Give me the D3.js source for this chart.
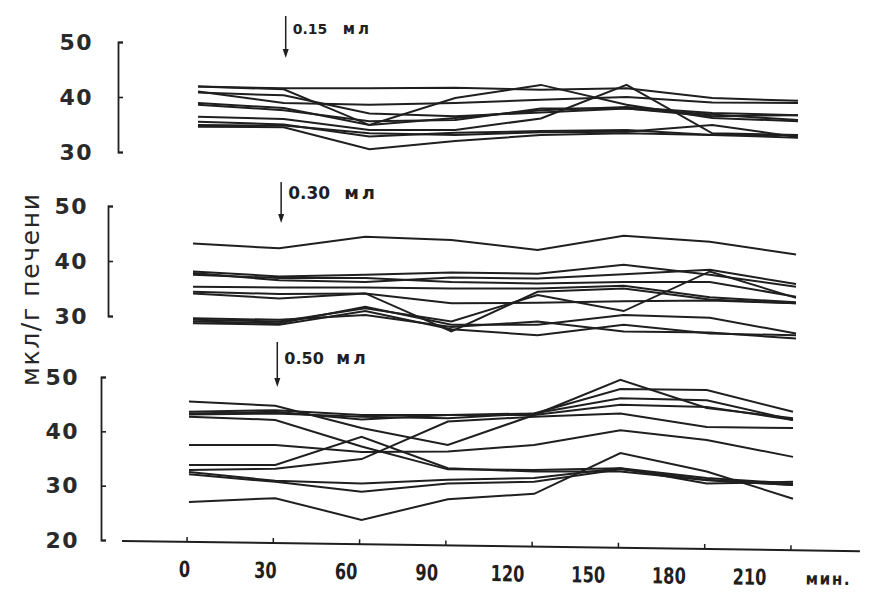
<!DOCTYPE html>
<html>
<head>
<meta charset="utf-8">
<script src="https://cdn.jsdelivr.net/npm/d3@7/dist/d3.min.js"></script>
<style>
  html, body { margin: 0; padding: 0; background: #ffffff; }
  svg { display: block; }
</style>
</head>
<body>
<script>
// Sampling times, minutes after injection
const times = [0, 30, 60, 90, 120, 150, 180, 210];

// Individual animals, µl per g of liver, dose 0.15 ml
const series015 = [
  [41.9, 41.6, 41.6, 41.7, 41.3, 41.6, 39.8, 39.3],
  [41.9, 41.4, 34.9, 39.8, 42.2, 38.6, 36.2, 35.6],
  [41.0, 38.9, 38.6, 38.9, 39.5, 40.0, 39.0, 38.9],
  [38.9, 38.0, 34.9, 36.2, 37.6, 38.2, 37.1, 36.7],
  [38.6, 37.6, 35.6, 35.8, 37.9, 37.9, 36.8, 35.8],
  [36.4, 36.0, 34.0, 34.0, 36.1, 42.2, 33.4, 33.1],
  [34.9, 34.8, 33.4, 33.1, 33.6, 33.7, 34.9, 32.7],
  [34.6, 34.5, 30.5, 32.0, 33.1, 33.4, 33.1, 32.6],
  [35.5, 35.0, 32.8, 33.5, 33.8, 34.0, 33.1, 33.1],
  [40.8, 40.3, 37.0, 36.5, 37.2, 37.9, 36.5, 36.7]
];

// dose 0.30 ml
const series030 = [
  [43.2, 42.3, 44.4, 43.8, 42.0, 44.6, 43.5, 41.2],
  [38.1, 37.2, 37.5, 37.9, 37.7, 39.3, 37.5, 35.3],
  [37.8, 36.5, 36.2, 37.0, 36.8, 37.6, 38.4, 35.8],
  [37.5, 36.9, 36.9, 36.2, 35.9, 36.2, 36.2, 33.5],
  [35.3, 35.2, 35.2, 35.0, 35.0, 35.5, 33.4, 32.5],
  [34.1, 33.2, 34.1, 32.3, 32.4, 32.7, 32.8, 32.3],
  [34.4, 34.0, 34.1, 27.2, 34.4, 35.0, 33.0, 32.3],
  [29.3, 29.0, 31.4, 29.0, 33.8, 30.9, 38.1, 33.3],
  [29.0, 28.7, 31.7, 28.4, 28.4, 30.2, 29.7, 26.8],
  [28.7, 28.4, 30.9, 27.6, 26.5, 28.4, 26.8, 26.5],
  [29.6, 29.3, 30.2, 28.0, 29.0, 27.2, 27.0, 25.9]
];

// dose 0.50 ml
const series050 = [
  [45.5, 44.7, 40.6, 37.5, 43.0, 49.5, 44.3, 42.4],
  [43.6, 43.9, 43.0, 43.0, 43.3, 47.8, 47.6, 43.6],
  [43.1, 43.3, 42.7, 42.4, 43.3, 46.1, 45.7, 42.1],
  [42.7, 42.1, 37.2, 33.0, 32.9, 33.2, 31.4, 30.4],
  [33.8, 33.8, 39.0, 33.2, 32.6, 32.6, 31.0, 30.1],
  [37.5, 37.5, 36.2, 36.3, 37.5, 40.2, 38.4, 35.3],
  [27.0, 27.7, 23.7, 27.5, 28.5, 36.0, 32.6, 27.6],
  [32.9, 33.1, 34.9, 41.8, 42.7, 43.3, 40.8, 40.6],
  [32.5, 30.9, 30.4, 31.1, 31.4, 33.2, 30.4, 30.7],
  [32.1, 30.7, 28.9, 30.4, 30.7, 33.0, 31.1, 30.1],
  [43.3, 43.6, 42.2, 43.0, 43.0, 44.9, 44.5, 42.1]
];

// Axis tick values and labels
const yTicksUpper = [30, 40, 50];
const yTicksLower = [20, 30, 40, 50];
const xTickLabels = ["0", "30", "60", "90", "120", "150", "180", "210"];
const doseLabels = ["0.15", "0.30", "0.50"];
const doseUnit = "мл";
const yTitle = "мкл/г печени";
const xUnit = "мин.";
const doseTime = 30;

const W = 880, H = 592;
const ink = "#1f1f1f";

const svg = d3.select("body").append("svg")
  .attr("width", W).attr("height", H)
  .attr("viewBox", `0 0 ${W} ${H}`);

svg.append("rect").attr("width", W).attr("height", H).attr("fill", "#ffffff");

// Layout of the three stacked panels
const panels = [
  { series: series015, dose: doseLabels[0], xr: [198, 798], yd: [30, 50], yr: [152, 42],
    ticks: yTicksUpper, axisX: 118, pad: 25, arrow: [16, 58], textY: 34, textSize: 14, unitGap: 50 },
  { series: series030, dose: doseLabels[1], xr: [193, 796], yd: [30, 50], yr: [316, 206],
    ticks: yTicksUpper, axisX: 108, pad: 20, arrow: [182, 223], textY: 199, textSize: 17, unitGap: 56 },
  { series: series050, dose: doseLabels[2], xr: [189, 793], yd: [20, 50], yr: [540, 377],
    ticks: yTicksLower, axisX: 101, pad: 22, arrow: [342, 387], textY: 364, textSize: 16, unitGap: 52 }
];

panels.forEach(p => {
  const x = d3.scaleLinear().domain([0, 210]).range(p.xr);
  const y = d3.scaleLinear().domain(p.yd).range(p.yr);
  p.x = x; p.y = y;

  const g = svg.append("g");

  // y axis drawn as a bracket with ticks pointing into the plot
  const yAxis = d3.axisLeft(y)
    .tickValues(p.ticks)
    .tickSizeInner(-5)
    .tickSizeOuter(-5)
    .tickPadding(p.pad)
    .tickFormat(d3.format("d"));
  const ya = g.append("g")
    .attr("transform", `translate(${p.axisX},0)`)
    .call(yAxis);
  ya.select(".domain").attr("stroke", ink).attr("stroke-width", 1.8).attr("fill", "none");
  ya.selectAll(".tick line").attr("stroke", ink).attr("stroke-width", 1.6);
  ya.selectAll(".tick text")
    .attr("fill", "#2a2a2a")
    .style("font-family", "'DejaVu Sans', sans-serif")
    .style("font-weight", "bold")
    .style("font-size", "22px")
    .style("letter-spacing", "1.5px");

  // individual curves
  const line = d3.line()
    .x((d, i) => x(times[i]))
    .y(d => y(d));
  g.append("g").selectAll("path")
    .data(p.series)
    .join("path")
    .attr("d", line)
    .attr("fill", "none")
    .attr("stroke", ink)
    .attr("stroke-width", 2)
    .attr("stroke-linejoin", "miter")
    .attr("stroke-linecap", "butt");

  // injection marker
  const ax = x(doseTime) + 2;
  g.append("line")
    .attr("x1", ax).attr("x2", ax)
    .attr("y1", p.arrow[0]).attr("y2", p.arrow[1] - 6)
    .attr("stroke", ink).attr("stroke-width", 1.5);
  g.append("path")
    .attr("d", `M${ax - 3},${p.arrow[1] - 9} L${ax + 3},${p.arrow[1] - 9} L${ax},${p.arrow[1]} Z`)
    .attr("fill", ink);
  g.append("text")
    .attr("x", ax + 7).attr("y", p.textY)
    .attr("fill", ink)
    .style("font-family", "'DejaVu Sans', sans-serif")
    .style("font-weight", "bold")
    .style("font-size", p.textSize + "px")
    .text(p.dose);
  g.append("text")
    .attr("x", ax + 7 + p.unitGap).attr("y", p.textY)
    .attr("fill", ink)
    .style("font-family", "'DejaVu Sans', sans-serif")
    .style("font-weight", "bold")
    .style("font-size", (p.textSize + 1) + "px")
    .style("letter-spacing", "3px")
    .text(doseUnit);
});

// Shared time axis under the lowest panel (slightly tilted baseline)
const xb = panels[2].x;
const xLabelPos = d3.scaleLinear().domain([0, 210]).range([185, 750]);
const xg = svg.append("g").attr("transform", "rotate(0.79,122,541)");
xg.append("line")
  .attr("x1", 122).attr("x2", 860)
  .attr("y1", 541).attr("y2", 541)
  .attr("stroke", ink).attr("stroke-width", 2);
xg.selectAll(".xt")
  .data(times)
  .join("line")
  .attr("class", "xt")
  .attr("x1", d => xb(d) - 2).attr("x2", d => xb(d) - 2)
  .attr("y1", 541).attr("y2", 536)
  .attr("stroke", ink).attr("stroke-width", 1.5);
xg.selectAll(".xl")
  .data(times)
  .join("text")
  .attr("class", "xl")
  .attr("transform", d => `translate(${xLabelPos(d)},576) scale(0.82,1)`)
  .attr("text-anchor", "middle")
  .attr("fill", ink)
  .style("font-family", "'DejaVu Sans Condensed', 'DejaVu Sans', sans-serif")
  .style("font-weight", "bold")
  .style("font-size", "22px")
  .text((d, i) => xTickLabels[i]);
xg.append("text")
  .attr("x", 806).attr("y", 575)
  .attr("fill", ink)
  .style("font-family", "'DejaVu Sans Condensed', 'DejaVu Sans', sans-serif")
  .style("font-weight", "bold")
  .style("font-size", "17px")
  .style("letter-spacing", "1.5px")
  .text(xUnit);

// Shared y title
svg.append("text")
  .attr("transform", "translate(39,290) rotate(-90)")
  .attr("text-anchor", "middle")
  .attr("fill", "#262626")
  .attr("textLength", 192)
  .attr("lengthAdjust", "spacing")
  .style("font-family", "'DejaVu Sans', sans-serif")
  .style("font-size", "25px")
  .text(yTitle);
</script>
</body>
</html>
